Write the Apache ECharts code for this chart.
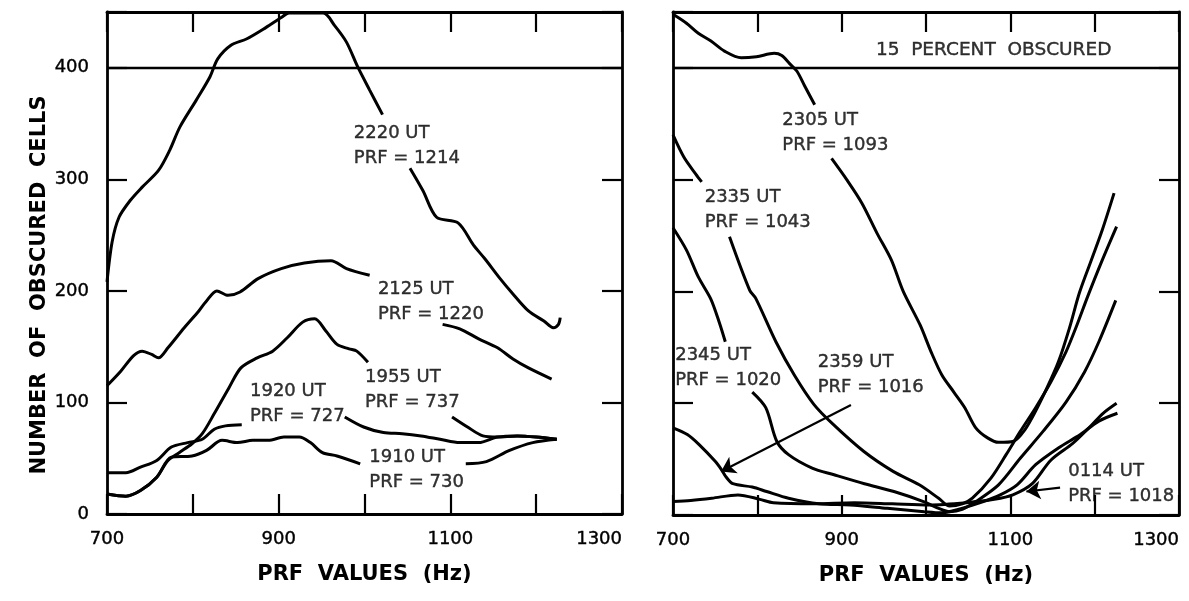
<!DOCTYPE html>
<html><head><meta charset="utf-8">
<script src="https://cdn.jsdelivr.net/npm/echarts@6/dist/echarts.min.js"></script>
<style>html,body{margin:0;padding:0;background:#fff}#c{width:1189px;height:601px}</style>
</head><body><div id="c"></div>
<script>
// ---- tick labels ----
const xTickLabels = [700, 900, 1100, 1300];
const yTickLabels = [0, 100, 200, 300, 400];
const obscuredLimit = 400;

// ---- left panel curves [PRF Hz, number of obscured cells]; null = gap left for a label ----
const c2220 = [[700,208],[706,244],[714,266],[727,281],[741,293],[760,308],[773,326],[785,347],[804,371],[820,392],[829,408],[844,420],[863,426],[885,436],[903,445],[912,449],[952,449],[965,438],[979,423],[992,401],[1006,380],[1021,358],null,[1053,310],[1068,290],[1084,266],[1109,261],[1127,241],[1140,229],[1158,211],[1171,199],[1191,182],[1209,173],[1220,167],[1226,170],[1228,176]];
const c2125 = [[700,115],[716,128],[731,142],[741,146],[752,143],[760,140],[771,149],[790,167],[807,182],[815,190],[828,200],[841,196],[855,199],[876,211],[903,220],[930,225],[961,227],[979,220],[1006,214],null,[1091,170],[1111,166],[1133,157],[1155,149],[1173,139],[1191,131],[1218,121]];
const c1955 = [[700,18],[722,16],[739,21],[758,33],[771,48],[784,55],[799,63],[811,72],[825,90],[842,113],[856,131],[875,140],[893,146],[910,158],[928,172],[942,175],[955,164],[968,152],[982,148],[991,146],[1004,136],null,[1102,87],[1120,78],[1138,70],[1155,69],[1178,70],[1200,69],[1224,67]];
const c1920 = [[700,37],[722,37],[739,42],[758,48],[775,60],[794,64],[811,67],[825,76],[838,79],[857,80],null,[977,87],[999,78],[1022,73],[1044,72],[1066,70],[1088,67],[1111,64],[1133,64],[1155,69],[1178,70],[1200,69],[1224,67]];
const c1910 = [[700,18],[722,16],[739,21],[758,33],[775,51],[799,52],[816,57],[834,66],[852,64],[870,66],[888,66],[906,69],[924,69],[937,64],[951,55],[968,52],[995,45],null,[1118,45],[1142,47],[1169,57],[1196,64],[1224,67]];

// ---- right panel curves ----
const c2305 = [[700,448],[716,440],[730,431],[745,424],[761,415],[781,409],[799,410],[820,413],[829,411],[838,404],[847,397],[856,384],[868,367],null,[888,319],[906,300],[924,279],[942,252],[959,228],[973,200],[993,170],[1006,146],[1019,125],[1033,110],[1046,96],[1059,78],[1073,69],[1086,65],[1104,66],[1117,76],[1130,93],[1143,113],[1157,137],[1170,167],[1182,199],[1196,228],[1209,255],[1223,288]];
const c2335 = [[700,340],[713,320],[727,305],[734,298],null,[767,249],[791,201],[798,194],[822,155],[844,125],[867,99],[890,81],[926,57],[961,39],[992,27],[1015,15],[1028,8],[1043,10],[1055,15],[1077,33],[1095,54],[1112,75],[1130,96],[1148,119],[1166,146],[1179,170],[1192,196],[1209,228],[1226,258]];
const c2345 = [[700,257],[716,237],[730,213],[745,193],[755,172],[762,155],null,[794,110],[810,96],[823,66],[837,54],[865,42],[891,36],[927,28],[962,21],[997,12],[1015,6],[1028,3],[1043,5],[1059,12],[1086,27],[1112,51],[1139,75],[1166,101],[1188,128],[1205,155],[1225,192]];
const c2359 = [[700,78],[717,72],[731,63],[750,48],[758,40],[763,34],[771,28],[794,25],[811,21],[837,15],[873,10],[910,9],[954,6],[998,3],[1018,2],[1038,5],[1068,12],[1088,18],[1108,27],[1130,45],[1157,60],[1183,72],[1205,84],[1227,91]];
const c0114 = [[700,12],[721,13],[746,15],[777,18],[803,14],[819,11],[868,10],[915,11],[960,10],[1004,9],[1048,11],[1081,14],[1103,18],[1126,28],[1148,49],[1174,64],[1192,77],[1210,91],[1226,100]];

// ---- annotations (data coords) ----
const notesLeft = [
  {hz:987, n:330, text:'2220 UT\nPRF = 1214'},
  {hz:1015, n:190, text:'2125 UT\nPRF = 1220'},
  {hz:1000, n:111, text:'1955 UT\nPRF = 737'},
  {hz:866, n:98.5, text:'1920 UT\nPRF = 727'},
  {hz:1005, n:39.5, text:'1910 UT\nPRF = 730'}
];
const notesRight = [
  {hz:829, n:342, text:'2305 UT\nPRF = 1093'},
  {hz:737, n:273, text:'2335 UT\nPRF = 1043'},
  {hz:702, n:132, text:'2345 UT\nPRF = 1020'},
  {hz:871, n:125.5, text:'2359 UT\nPRF = 1016'},
  {hz:1168, n:27.5, text:'0114 UT\nPRF = 1018'}
];
const bandNote = {hz:940, n:416, text:'15  PERCENT  OBSCURED'};
const arrowsRight = [
  {from:[911,98.5], to:[757,39]},
  {from:[1159,24.5], to:[1119,21]}
];

const BLACK = '#000';
const FONT = 'DejaVu Sans';

function seg(arr){ return arr.map(p => p === null ? '-' : p); }
function curve(name, data, gi, withLimit){
  const s = {name, type:'line', xAxisIndex:gi*2, yAxisIndex:gi*2, data:seg(data), smooth:0.3,
    showSymbol:false, symbol:'none', connectNulls:false, silent:true,
    lineStyle:{color:BLACK, width:3}};
  if (withLimit) s.markLine = {silent:true, symbol:'none', label:{show:false},
    lineStyle:{color:BLACK, width:2.4, type:'solid'}, data:[{yAxis:obscuredLimit}]};
  return s;
}
function xAx(gi, pos){
  const bottom = pos === 'bottom';
  return {type:'value', gridIndex:gi, position:pos, min:700, max:1300, interval:100,
    axisLine:{show:true, onZero:false, lineStyle:{color:BLACK, width:2.8}},
    axisTick:{show:true, inside:true, length:20, lineStyle:{color:BLACK, width:2.2}},
    axisLabel:{show:bottom, margin:16, color:BLACK, fontSize:18, fontFamily:FONT, alignMaxLabel:'right',
      textBorderColor:BLACK, textBorderWidth:0.4,
      formatter: v => xTickLabels.includes(v) ? String(v) : ''},
    splitLine:{show:false},
    name: bottom ? 'PRF  VALUES  (Hz)' : '', nameLocation:'middle', nameGap:50,
    nameTextStyle:{color:BLACK, fontSize:21, fontWeight:'bold', fontFamily:FONT}};
}
function yAx(gi, pos, labels){
  return {type:'value', gridIndex:gi, position:pos, min:0, max:450, interval:100,
    axisLine:{show:true, onZero:false, lineStyle:{color:BLACK, width:2.8}},
    axisTick:{show:true, inside:true, length:20, lineStyle:{color:BLACK, width:2.2}},
    axisLabel:{show:labels, margin:18, color:BLACK, fontSize:18, fontFamily:FONT,
      textBorderColor:BLACK, textBorderWidth:0.4,
      formatter: v => yTickLabels.includes(v) ? String(v) : ''},
    splitLine:{show:false}};
}
function notes(items, gi, size){
  return {type:'scatter', xAxisIndex:gi*2, yAxisIndex:gi*2, symbolSize:1, silent:true,
    itemStyle:{color:'rgba(0,0,0,0)'},
    data: items.map(a => ({value:[a.hz, a.n], name:a.text})),
    label:{show:true, position:'right', distance:0, formatter:p => p.name, color:BLACK,
      textBorderColor:BLACK, textBorderWidth:0.4,
      fontSize:size, lineHeight:25, fontFamily:FONT, align:'left', verticalAlign:'middle'}};
}

const chart = echarts.init(document.getElementById('c'), null, {renderer:'canvas'});
chart.setOption({
  animation:false,
  backgroundColor:'#fff',
  grid:[{left:107, right:567, top:12, bottom:87}, {left:673, right:10, top:12, bottom:86}],
  xAxis:[xAx(0,'bottom'), xAx(0,'top'), xAx(1,'bottom'), xAx(1,'top')],
  yAxis:[yAx(0,'left',true), yAx(0,'right',false), yAx(1,'left',false), yAx(1,'right',false)],
  graphic:[{type:'text', x:40, y:285, rotation:Math.PI/2,
    style:{text:'NUMBER  OF  OBSCURED  CELLS', fill:BLACK, fontSize:21, fontWeight:'bold', fontFamily:FONT,
      align:'center', verticalAlign:'middle'}}],
  series:[
    curve('2220 UT', c2220, 0, true),
    curve('2125 UT', c2125, 0),
    curve('1955 UT', c1955, 0),
    curve('1920 UT', c1920, 0),
    curve('1910 UT', c1910, 0),
    curve('2305 UT', c2305, 1, true),
    curve('2335 UT', c2335, 1),
    curve('2345 UT', c2345, 1),
    curve('2359 UT', c2359, 1),
    curve('0114 UT', c0114, 1),
    notes(notesLeft, 0, 18),
    notes(notesRight, 1, 18),
    notes([bandNote], 1, 18.5),
    {type:'lines', coordinateSystem:'cartesian2d', xAxisIndex:2, yAxisIndex:2, silent:true,
      symbol:['none','arrow'], symbolSize:14,
      lineStyle:{color:BLACK, width:2.2, opacity:1, curveness:0},
      data: arrowsRight.map(a => ({coords:[a.from, a.to]}))}
  ]
});
</script></body></html>
